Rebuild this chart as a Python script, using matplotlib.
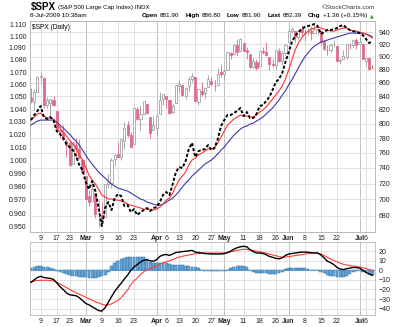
import numpy as np
import pandas as pd
import matplotlib
matplotlib.use('Agg')
import matplotlib.pyplot as plt
from matplotlib.ticker import FixedLocator, FixedFormatter, NullLocator

plt.rcParams['font.family'] = ['Liberation Sans', 'DejaVu Sans']

# trading days Feb 4 - Jul 8 2009
holidays = ['2009-02-16', '2009-04-10', '2009-05-25', '2009-07-03']
dates = pd.bdate_range('2009-02-04', '2009-07-08')
dates = dates[~dates.isin(pd.to_datetime(holidays))]

opens = [837.8, 831.8, 846.1, 868.2, 866.9, 827.4, 829.9, 834.0,
         818.6, 791.1, 787.9, 775.9, 773.3, 744.7, 770.6, 765.8, 749.9,
         729.6, 704.4, 698.6, 708.3, 684.0, 680.8, 679.3, 719.6, 720.9, 752.0, 758.8,
         753.9, 776.0, 797.9, 784.6, 772.3, 820.6, 806.8, 814.1, 828.7, 809.1, 790.9,
         793.6, 814.5, 835.1, 839.8, 834.1, 816.8, 829.3, 855.3, 856.9, 839.4, 854.5,
         865.2, 868.3, 831.3, 847.3, 844.6, 853.9, 862.8, 854.5, 856.9, 876.6,
         872.7, 879.2, 906.1, 904.0, 919.6, 909.0, 923.0, 910.5, 905.4, 884.2,
         892.8, 886.1, 909.7, 908.6, 900.4, 888.7, 887.0, 910.0, 893.0, 907.0,
         923.3, 942.9, 942.5, 932.5, 945.7, 938.1, 940.4, 942.7, 939.0, 943.4, 942.5,
         925.6, 911.9, 910.9, 920.0, 918.1, 893.5, 896.3, 899.5, 918.8, 919.9, 927.2,
         920.8, 921.2, 894.3, 898.6, 881.9]
highs = [851.9, 850.6, 870.8, 877.0, 868.1, 838.2, 835.5, 839.4,
         818.6, 796.2, 797.6, 778.7, 777.9, 775.5, 780.1, 779.4, 751.3,
         729.6, 711.7, 724.1, 708.3, 699.1, 695.3, 719.6, 731.9, 752.6, 758.3, 774.5,
         778.1, 803.0, 803.2, 788.9, 823.4, 823.7, 826.8, 833.0, 828.7, 809.1, 810.5,
         813.6, 845.6, 842.5, 839.8, 834.1, 828.4, 856.9, 864.3, 856.9, 852.9, 870.4,
         875.6, 868.3, 850.1, 861.8, 852.9, 871.8, 868.8, 864.5, 882.1, 888.7,
         880.5, 907.9, 907.7, 920.3, 929.6, 930.2, 923.0, 915.6, 905.4, 898.4,
         897.0, 910.0, 916.4, 924.6, 900.4, 896.7, 911.8, 913.8, 909.5, 920.0,
         947.8, 949.4, 942.5, 942.5, 951.7, 946.3, 946.9, 949.8, 956.2, 946.3, 942.5,
         928.0, 918.4, 921.9, 927.1, 918.1, 898.7, 910.9, 921.4, 922.0, 928.0, 930.0,
         931.9, 921.2, 898.7, 898.6, 886.8]
lows = [829.2, 819.9, 845.4, 860.3, 823.0, 822.3, 808.1, 825.2,
        789.2, 780.4, 777.0, 754.3, 742.4, 744.7, 752.9, 751.8, 734.5,
        699.7, 692.3, 698.6, 677.9, 666.8, 672.9, 679.3, 713.9, 714.8, 742.5, 753.4,
        749.9, 765.6, 781.8, 766.2, 772.3, 805.5, 791.4, 814.1, 813.4, 779.8, 790.9,
        783.3, 814.5, 826.7, 822.8, 814.5, 814.8, 829.3, 845.4, 840.3, 835.6, 847.0,
        860.9, 832.4, 826.8, 840.6, 835.5, 853.9, 854.7, 847.1, 856.9, 868.5,
        866.1, 879.2, 897.3, 904.0, 901.4, 909.0, 908.7, 896.5, 882.3, 882.5,
        878.9, 886.1, 905.2, 901.4, 879.6, 883.8, 881.5, 891.9, 887.6, 903.6,
        923.3, 938.5, 923.9, 929.3, 934.1, 926.4, 936.2, 928.0, 939.0, 935.7, 919.7,
        911.6, 903.8, 907.9, 915.8, 893.0, 888.9, 896.3, 896.3, 913.0, 916.2, 912.9,
        920.8, 896.4, 886.4, 879.9, 881.9]
closes = [832.2, 845.9, 868.6, 869.9, 827.2, 833.7, 835.2, 826.8,
          789.2, 788.4, 778.9, 770.1, 743.3, 773.1, 764.9, 752.8, 735.1,
          700.8, 696.3, 712.9, 682.6, 683.4, 676.5, 719.6, 721.4, 750.7, 756.6, 753.9,
          778.1, 794.4, 784.0, 768.5, 822.9, 806.1, 813.9, 832.9, 815.9, 787.5, 797.9,
          811.1, 834.4, 842.5, 835.5, 815.6, 825.2, 856.6, 858.7, 841.5, 852.1, 865.3,
          869.6, 832.4, 850.1, 843.6, 851.9, 866.2, 857.5, 855.2, 873.6, 872.8,
          877.5, 907.2, 903.8, 919.5, 907.4, 929.2, 909.2, 908.4, 883.9, 893.1,
          882.9, 909.7, 908.1, 903.5, 888.3, 887.0, 910.3, 893.1, 906.8, 919.1,
          942.9, 944.7, 931.8, 942.5, 940.1, 939.1, 942.4, 939.2, 944.9, 946.2, 923.7,
          912.0, 910.7, 918.4, 921.2, 893.0, 895.1, 900.9, 920.3, 918.9, 927.2, 919.3,
          923.3, 896.4, 898.7, 881.0, 882.4]

# overlay line (left scale) and its two averages
overlay = [1.0312, 1.0352, 1.0384, 1.0424, 1.0336, 1.0320, 1.0336, 1.0312, 1.0225, 1.0202,
           1.0170, 1.0124, 1.0100, 1.0077, 1.0031, 0.9962, 0.9923, 0.9832, 0.9779, 0.9840,
           0.9764, 0.9638, 0.9505, 0.9638, 0.9682, 0.9623, 0.9712, 0.9742, 0.9727, 0.9653,
           0.9660, 0.9608, 0.9630, 0.9586, 0.9608, 0.9623, 0.9638, 0.9616, 0.9638, 0.9645,
           0.9682, 0.9735, 0.9757, 0.9735, 0.9817, 0.9908, 0.9946, 0.9939, 0.9992, 1.0085,
           1.0132, 1.0023, 1.0069, 1.0077, 1.0085, 1.0116, 1.0077, 1.0093, 1.0163, 1.0265,
           1.0312, 1.0352, 1.0352, 1.0368, 1.0384, 1.0408, 1.0344, 1.0376, 1.0328, 1.0328,
           1.0360, 1.0424, 1.0432, 1.0464, 1.0496, 1.0553, 1.0618, 1.0642, 1.0692, 1.0782,
           1.0866, 1.0949, 1.1000, 1.1034, 1.1059, 1.1076, 1.1085, 1.1093, 1.1102, 1.1085,
           1.1017, 1.1034, 1.1051, 1.1051, 1.1059, 1.1068, 1.1085, 1.1093, 1.1068, 1.1051,
           1.1042, 1.1034, 1.1025, 1.1008, 1.0975, 1.0941, 1.0958]
avg_fast = [1.0312, 1.0336, 1.0360, 1.0368, 1.0344, 1.0328, 1.0328, 1.0320, 1.0288, 1.0249,
            1.0217, 1.0186, 1.0155, 1.0124, 1.0093, 1.0039, 1.0000, 0.9946, 0.9885, 0.9848,
            0.9817, 0.9779, 0.9735, 0.9720, 0.9705, 0.9705, 0.9697, 0.9697, 0.9690, 0.9682,
            0.9667, 0.9660, 0.9653, 0.9645, 0.9638, 0.9630, 0.9630, 0.9623, 0.9623, 0.9630,
            0.9645, 0.9667, 0.9697, 0.9712, 0.9750, 0.9802, 0.9848, 0.9878, 0.9908, 0.9962,
            1.0000, 1.0016, 1.0039, 1.0054, 1.0069, 1.0085, 1.0085, 1.0100, 1.0132, 1.0178,
            1.0225, 1.0273, 1.0296, 1.0320, 1.0336, 1.0352, 1.0344, 1.0344, 1.0336, 1.0336,
            1.0352, 1.0376, 1.0392, 1.0416, 1.0448, 1.0480, 1.0513, 1.0546, 1.0587, 1.0643,
            1.0717, 1.0799, 1.0882, 1.0941, 1.0983, 1.1017, 1.1042, 1.1059, 1.1068, 1.1076,
            1.1068, 1.1059, 1.1051, 1.1042, 1.1042, 1.1051, 1.1059, 1.1068, 1.1068, 1.1051,
            1.1042, 1.1042, 1.1034, 1.1025, 1.1017, 1.1000, 1.0983]
avg_slow = [1.0273, 1.0288, 1.0304, 1.0312, 1.0312, 1.0312, 1.0312, 1.0312, 1.0296, 1.0273,
            1.0249, 1.0225, 1.0202, 1.0170, 1.0147, 1.0116, 1.0077, 1.0039, 1.0000, 0.9969,
            0.9938, 0.9908, 0.9885, 0.9863, 0.9840, 0.9817, 0.9802, 0.9787, 0.9779, 0.9772,
            0.9764, 0.9750, 0.9735, 0.9720, 0.9705, 0.9697, 0.9682, 0.9675, 0.9667, 0.9660,
            0.9660, 0.9667, 0.9682, 0.9697, 0.9712, 0.9735, 0.9764, 0.9795, 0.9825, 0.9848,
            0.9878, 0.9900, 0.9923, 0.9946, 0.9969, 0.9985, 1.0000, 1.0023, 1.0047, 1.0077,
            1.0100, 1.0132, 1.0163, 1.0194, 1.0217, 1.0241, 1.0257, 1.0265, 1.0280, 1.0288,
            1.0304, 1.0320, 1.0336, 1.0360, 1.0384, 1.0408, 1.0440, 1.0472, 1.0513, 1.0546,
            1.0595, 1.0635, 1.0684, 1.0733, 1.0782, 1.0824, 1.0857, 1.0891, 1.0916, 1.0933,
            1.0949, 1.0958, 1.0966, 1.0975, 1.0983, 1.0992, 1.1000, 1.1008, 1.1017, 1.1025,
            1.1025, 1.1025, 1.1025, 1.1025, 1.1017, 1.1008, 1.0992]

# lower panel
macd = [-12.5, -10, -7.5, -6.3, -7.5, -8, -8.5, -9.5, -13, -17,
        -20, -23.5, -25.5, -26, -26.5, -28.5, -31.5, -34.5, -36, -38,
        -40, -42, -42.5, -39, -33.5, -27.5, -22, -17.5, -13.5, -9,
        -5, 0, 3.5, 6, 8.5, 10.5, 11, 10, 9.5, 11,
        14.5, 16, 16.5, 15.5, 17, 18.5, 19, 19.5, 19.8, 20.3,
        20.8, 19, 18.5, 18, 17.5, 17.2, 17, 17, 17, 17,
        17.5, 18.5, 20, 22, 23.5, 24.5, 25, 24.5, 21.5, 19.5,
        18, 18, 17.5, 16.3, 14.5, 13.5, 12.5, 12, 13, 15.5,
        17, 17.5, 18, 18.5, 19, 19, 18.8, 18.3, 18, 18,
        16, 13, 9.5, 8, 6, 3, 1.2, 0.8, 1.7, 2.3,
        3, 2.8, 2.4, 0, -2, -4, -5.2]
signal = [-12.5, -11, -10.6, -10.4, -10.4, -10.4, -10.6, -11, -12.5, -14.3,
          -16, -18, -20, -21.8, -23.4, -25, -26.5, -28, -29.8, -31.3,
          -32.8, -34, -35.3, -36.2, -36.2, -35, -33, -31.5, -28.5, -24.5,
          -20.5, -15, -11, -8, -4.5, -1.5, 0.5, 2.4, 3.5, 4.5,
          6.5, 7.7, 8.8, 10, 11.3, 12.5, 13.7, 14.6, 15.3, 16,
          16.6, 17.2, 17.7, 18, 18, 18, 18, 18, 18, 18,
          18, 18.5, 19.3, 20, 20.8, 21.5, 22, 21.8, 21.2, 20.6,
          20, 19.4, 18.7, 18, 17, 16, 15.2, 14.4, 13.7, 13.8,
          14.2, 14.8, 15.3, 15.8, 16.3, 16.9, 17.4, 17.9, 18, 18,
          17, 15.5, 13.5, 11.8, 10.2, 8.8, 7.5, 6.3, 5.5, 4.8,
          4.3, 4, 3.4, 2.6, 1.8, 0.8, -0.5]
hist = [2.5, 3.5, 4.4, 4.4, 3.5, 3, 2.3, 1.4, -0.5, -2.2,
        -3.1, -4, -4.8, -5.5, -6.2, -6.6, -6.8, -7.2, -7.8, -8.4,
        -8.4, -7.5, -6.2, -4.8, -1.6, 4, 7.5, 10, 11.8, 13,
        13.8, 14.2, 14.2, 14.2, 14, 13.5, 11.5, 9, 8, 7.3,
        7.3, 7.3, 7.3, 6.8, 5.5, 5.5, 5.5, 5.5, 5, 4,
        3.8, 3.5, 2, 0, -1, -1, -1, -1, -1, -0.8,
        -0.3, 0.5, 2, 3.5, 4.2, 4.4, 4.2, 3, 0.3, -1.5,
        -2.5, -2.8, -3, -3.3, -3.8, -3.8, -3.5, -3, -1.5, 1,
        2, 2.3, 2.5, 2.7, 2.7, 2.2, 1.5, 0.5, 0, 0,
        -1.5, -3, -4.5, -5.5, -6.3, -7, -7.3, -6.8, -5.5, -3.5,
        -1.5, -0.5, 0, -1.5, -3, -4, -4.5]

tick_days = ['2009-02-09', '2009-02-17', '2009-02-23', '2009-03-02', '2009-03-09',
             '2009-03-16', '2009-03-23', '2009-04-01', '2009-04-06', '2009-04-13',
             '2009-04-20', '2009-04-27', '2009-05-01', '2009-05-11', '2009-05-18',
             '2009-05-26', '2009-06-01', '2009-06-08', '2009-06-15', '2009-06-22',
             '2009-07-01', '2009-07-06']
tick_labels = ['9', '17', '23', 'Mar', '9', '16', '23', 'Apr', '6', '13', '20', '27',
               'May', '11', '18', '26', 'Jun', '8', '15', '22', 'Jul', '6']
months = {'Mar', 'Apr', 'May', 'Jun', 'Jul'}

left_ticks = [0.95 + 0.01 * k for k in range(17)]
right_ticks = list(range(680, 941, 20))
lower_ticks = [20, 10, 0, -10, -20, -30, -40]

quote = [('Open', True), ('881.90', False), ('High', True), ('886.80', False),
         ('Low', True), ('881.90', False), ('Last', True), ('882.39', False),
         ('Chg', True), ('+1.36 (+0.15%)', False)]

x = np.arange(len(dates))
tick_pos = [dates.get_loc(pd.Timestamp(d)) for d in tick_days]

W, H = 400, 327
fig = plt.figure(figsize=(W / 100, H / 100), dpi=100)
fig.patch.set_facecolor('white')

def box(x0, y0, x1, y1):
    return [x0 / W, 1 - y1 / H, (x1 - x0) / W, (y1 - y0) / H]

ax = fig.add_axes(box(30, 21, 375, 232))      # price (right scale)
ax_l = ax.twinx()                              # overlay (left scale)
ax2 = fig.add_axes(box(30, 242, 375, 315))     # lower panel

grid_c = '#dcdcdc'
frame_c = '#b8b8b8'
xlim = (-0.3, 106.8)

# vertical grid
for p, lab in zip(tick_pos, tick_labels):
    col = '#b5b5b5' if lab in months else grid_c
    ax.axvline(p, color=col, lw=0.6, zorder=0)
    ax2.axvline(p, color=col, lw=0.6, zorder=0)

# candles
o, h, l, c = map(np.array, (opens, highs, lows, closes))
prev = np.r_[o[0], c[:-1]]
up_col, dn_col = '#9a9a9a', '#dc6a8a'
edge = [up_col if c[i] >= prev[i] else dn_col for i in range(len(c))]
face = [edge[i] if c[i] < o[i] else 'white' for i in range(len(c))]
face[-1] = '#f5e23a'
edge[-1] = '#8a7a10'
body_lo = np.minimum(o, c)
body_h = np.maximum(np.abs(c - o), 0.6)
ax.vlines(x, l, h, colors=edge, lw=0.6, zorder=2)
ax.bar(x, body_h, bottom=body_lo, width=0.66, color=face, edgecolor=edge,
       linewidth=0.55, zorder=3)

ax.set_yscale('log')
ax.set_ylim(661.0, 958.9)
ax.set_xlim(*xlim)
ax.yaxis.set_major_locator(FixedLocator(right_ticks))
ax.yaxis.set_major_formatter(FixedFormatter([str(v) for v in right_ticks]))
ax.yaxis.set_minor_locator(NullLocator())
ax.yaxis.tick_right()
for v in right_ticks:
    ax.axhline(v, color=grid_c, lw=0.6, zorder=0)

# overlay lines
ax_l.plot(x, avg_slow, color='#3a3aa8', lw=0.8, zorder=4)
ax_l.plot(x, avg_fast, color='#ff3030', lw=0.8, zorder=4)
ax_l.plot(x, overlay, color='black', lw=1.4, dashes=(1.6, 1.0), zorder=5)
ax_l.set_yscale('log')
ax_l.set_ylim(0.9462, 1.1128)
ax_l.yaxis.set_major_locator(FixedLocator(left_ticks))
ax_l.yaxis.set_major_formatter(FixedFormatter(['%.3f' % v for v in left_ticks]))
ax_l.yaxis.set_minor_locator(NullLocator())
ax_l.yaxis.tick_left()
ax_l.set_xlim(*xlim)

# lower panel
ax2.bar(x, hist, width=0.9, color='#68a6d6', edgecolor='#2f70a5', linewidth=0.35, zorder=2)
ax2.axhline(0, color='#5b9bd0', lw=0.8, zorder=2)
ax2.plot(x, signal, color='#ff3b3b', lw=0.8, zorder=3)
ax2.plot(x, macd, color='black', lw=1.0, zorder=4)
ax2.set_xlim(*xlim)
ax2.set_ylim(-46.6, 29.5)
ax2.yaxis.tick_right()
ax2.set_yticks(lower_ticks)
for v in lower_ticks:
    ax2.axhline(v, color=grid_c, lw=0.6, zorder=0)

for a in (ax, ax_l, ax2):
    for s in a.spines.values():
        s.set_color(frame_c)
        s.set_linewidth(0.6)
    a.tick_params(length=0, labelsize=5, colors='#222222', pad=2.5)

for a in (ax, ax2):
    a.set_xticks(tick_pos)
    a.set_xticklabels(tick_labels)
    a.tick_params(axis='x', pad=2)
    for t in a.get_xticklabels():
        if t.get_text() in months:
            t.set_fontweight('bold')
ax_l.tick_params(axis='x', labelbottom=False)

# header text
def px(xp, yp):
    return xp / W, 1 - yp / H

renderer = fig.canvas.get_renderer()
sym = fig.text(*px(31, 7), '$SPX', fontsize=7, fontweight='bold', va='center', ha='left')
sym_w = sym.get_window_extent(renderer).width
fig.text(*px(31 + sym_w + 2.5, 7.5), '(S&P 500 Large Cap Index) INDX', fontsize=4.4,
         va='center', ha='left')
fig.text(*px(375, 7.5), '\u00a9StockCharts.com', fontsize=4.6, va='center', ha='right',
         color='#333333')
fig.text(*px(30, 15.5), '8-Jul-2009 10:38am', fontsize=4.6, va='center', ha='left')

# quote line, right-aligned so it ends just before the arrow
pieces = []
for txt, bold in quote:
    t = fig.text(0, 0, txt, fontsize=4.6, va='center', ha='left',
                 fontweight='bold' if bold else 'normal')
    pieces.append((t, t.get_window_extent(renderer).width, 2.5 if bold else 5.5))
total = sum(w + g for _, w, g in pieces) - pieces[-1][2]
xp = 367 - total
for t, w, g in pieces:
    t.set_position(px(xp, 15.5))
    xp += w + g
fig.text(*px(369.5, 15.5), '\u25b2', fontsize=3.5, va='center', ha='left', color='#2a9a2a',
         family=['DejaVu Sans'])
ax.text(0.006, 0.988, '$SPX (Daily)', transform=ax.transAxes, fontsize=4.8,
        va='top', ha='left', zorder=6)

fig.savefig('out.png', dpi=100)
